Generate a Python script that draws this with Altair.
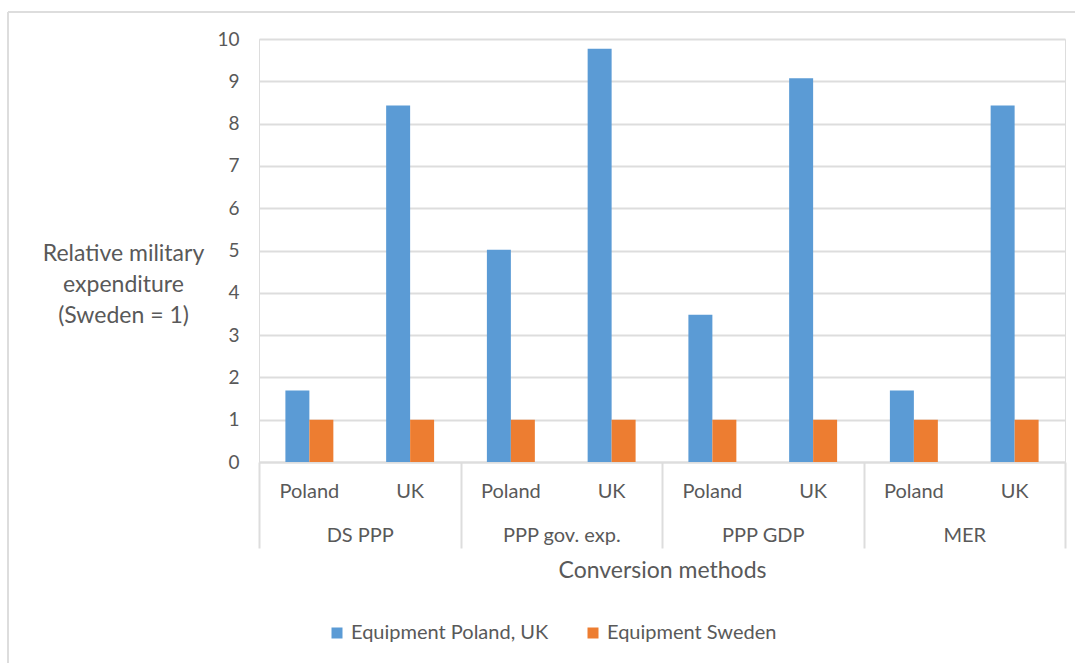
import altair as alt
import pandas as pd

# Conversion methods and the countries compared within each
methods = ["DS PPP", "PPP gov. exp.", "PPP GDP", "MER"]
countries = ["Poland", "UK"]

# Equipment expenditure relative to Sweden, per method and country
equipment_poland_uk = [1.69, 8.43, 5.02, 9.77, 3.48, 9.07, 1.69, 8.43]
equipment_sweden = [1, 1, 1, 1, 1, 1, 1, 1]

series_names = ["Equipment Poland, UK", "Equipment Sweden"]
series_colors = ["#5B9BD5", "#ED7D31"]

TEXT = "#595959"
LINE = "#DDDDDD"
FONT = "Lato"

keys = [f"{m} | {c}" for m in methods for c in countries]
rows = []
for i, k in enumerate(keys):
    m, c = k.split(" | ")
    rows.append({"key": k, "method": m, "country": c, "series": series_names[0], "value": equipment_poland_uk[i]})
    rows.append({"key": k, "method": m, "country": c, "series": series_names[1], "value": equipment_sweden[i]})
df = pd.DataFrame(rows)
labels_df = pd.DataFrame({"key": keys, "country": [k.split(" | ")[1] for k in keys]})
methods_df = pd.DataFrame({"method": methods})
one = pd.DataFrame({"k": [0]})

sub_scale = alt.Scale(paddingInner=0.524, paddingOuter=0.262)

bars = alt.Chart(df).mark_bar().encode(
    x=alt.X("key:N", sort=keys, scale=sub_scale, axis=None),
    xOffset=alt.XOffset("series:N", sort=series_names),
    y=alt.Y(
        "value:Q",
        scale=alt.Scale(domain=[0, 10], nice=False),
        axis=alt.Axis(
            values=list(range(0, 11)),
            grid=True, gridColor=LINE, gridWidth=2,
            domain=False, ticks=False,
            labelFontSize=19, labelColor=TEXT, labelPadding=20, labelFont=FONT,
            title=["Relative military", "expenditure", "(Sweden = 1)"],
            titleAngle=0, titleX=-136, titleY=214,
            titleAlign="center", titleBaseline="middle",
            titleFontSize=23, titleFontWeight="normal", titleColor=TEXT,
            titleLineHeight=31, titleFont=FONT,
        ),
    ),
    color=alt.Color(
        "series:N",
        sort=series_names,
        scale=alt.Scale(domain=series_names, range=series_colors),
        legend=alt.Legend(
            title=None, orient="none", direction="horizontal",
            legendX=68, legendY=584,
            symbolType="square", symbolSize=121, symbolStrokeWidth=0,
            labelFontSize=20, labelColor=TEXT, labelFont=FONT, labelLimit=0,
            labelOffset=4, columnPadding=34,
        ),
    ),
)

country_labels = alt.Chart(labels_df).mark_text(
    fontSize=20, color=TEXT, font=FONT, baseline="middle"
).encode(
    x=alt.X("key:N", sort=keys, scale=sub_scale, axis=None),
    y=alt.value(453),
    text="country:N",
)

method_axis = alt.Chart(methods_df).mark_point(opacity=0).encode(
    x=alt.X(
        "method:N", sort=methods,
        scale=alt.Scale(paddingInner=0, paddingOuter=0),
        axis=alt.Axis(
            labelAngle=0, tickBand="extent",
            domainColor=LINE, domainWidth=2,
            tickColor=LINE, tickWidth=2, tickSize=86,
            labelFontSize=20, labelColor=TEXT, labelFont=FONT,
            labelPadding=-13, labelBaseline="middle",
            title="Conversion methods", titleFontSize=23, titleFontWeight="normal",
            titleColor=TEXT, titleFont=FONT, titleY=108, titleBaseline="middle",
            grid=False,
        ),
    ),
    y=alt.value(0),
)

frame_top = alt.Chart(one).mark_rule(color=LINE, strokeWidth=2).encode(
    x=alt.value(-251), x2=alt.value(900), y=alt.value(-27)
)
frame_left = alt.Chart(one).mark_rule(color=LINE, strokeWidth=2).encode(
    x=alt.value(-251), y=alt.value(-27), y2=alt.value(700)
)

chart = alt.layer(
    bars, country_labels, method_axis, frame_top, frame_left
).resolve_scale(x="independent").properties(
    width=806, height=423,
    autosize=alt.AutoSizeParams(type="none"),
    padding={"left": 259, "top": 39, "right": 10, "bottom": 201},
).configure_view(stroke=None).configure(background="white", font=FONT)

chart.save("out.html", embed_options={"renderer": "svg", "actions": False})
